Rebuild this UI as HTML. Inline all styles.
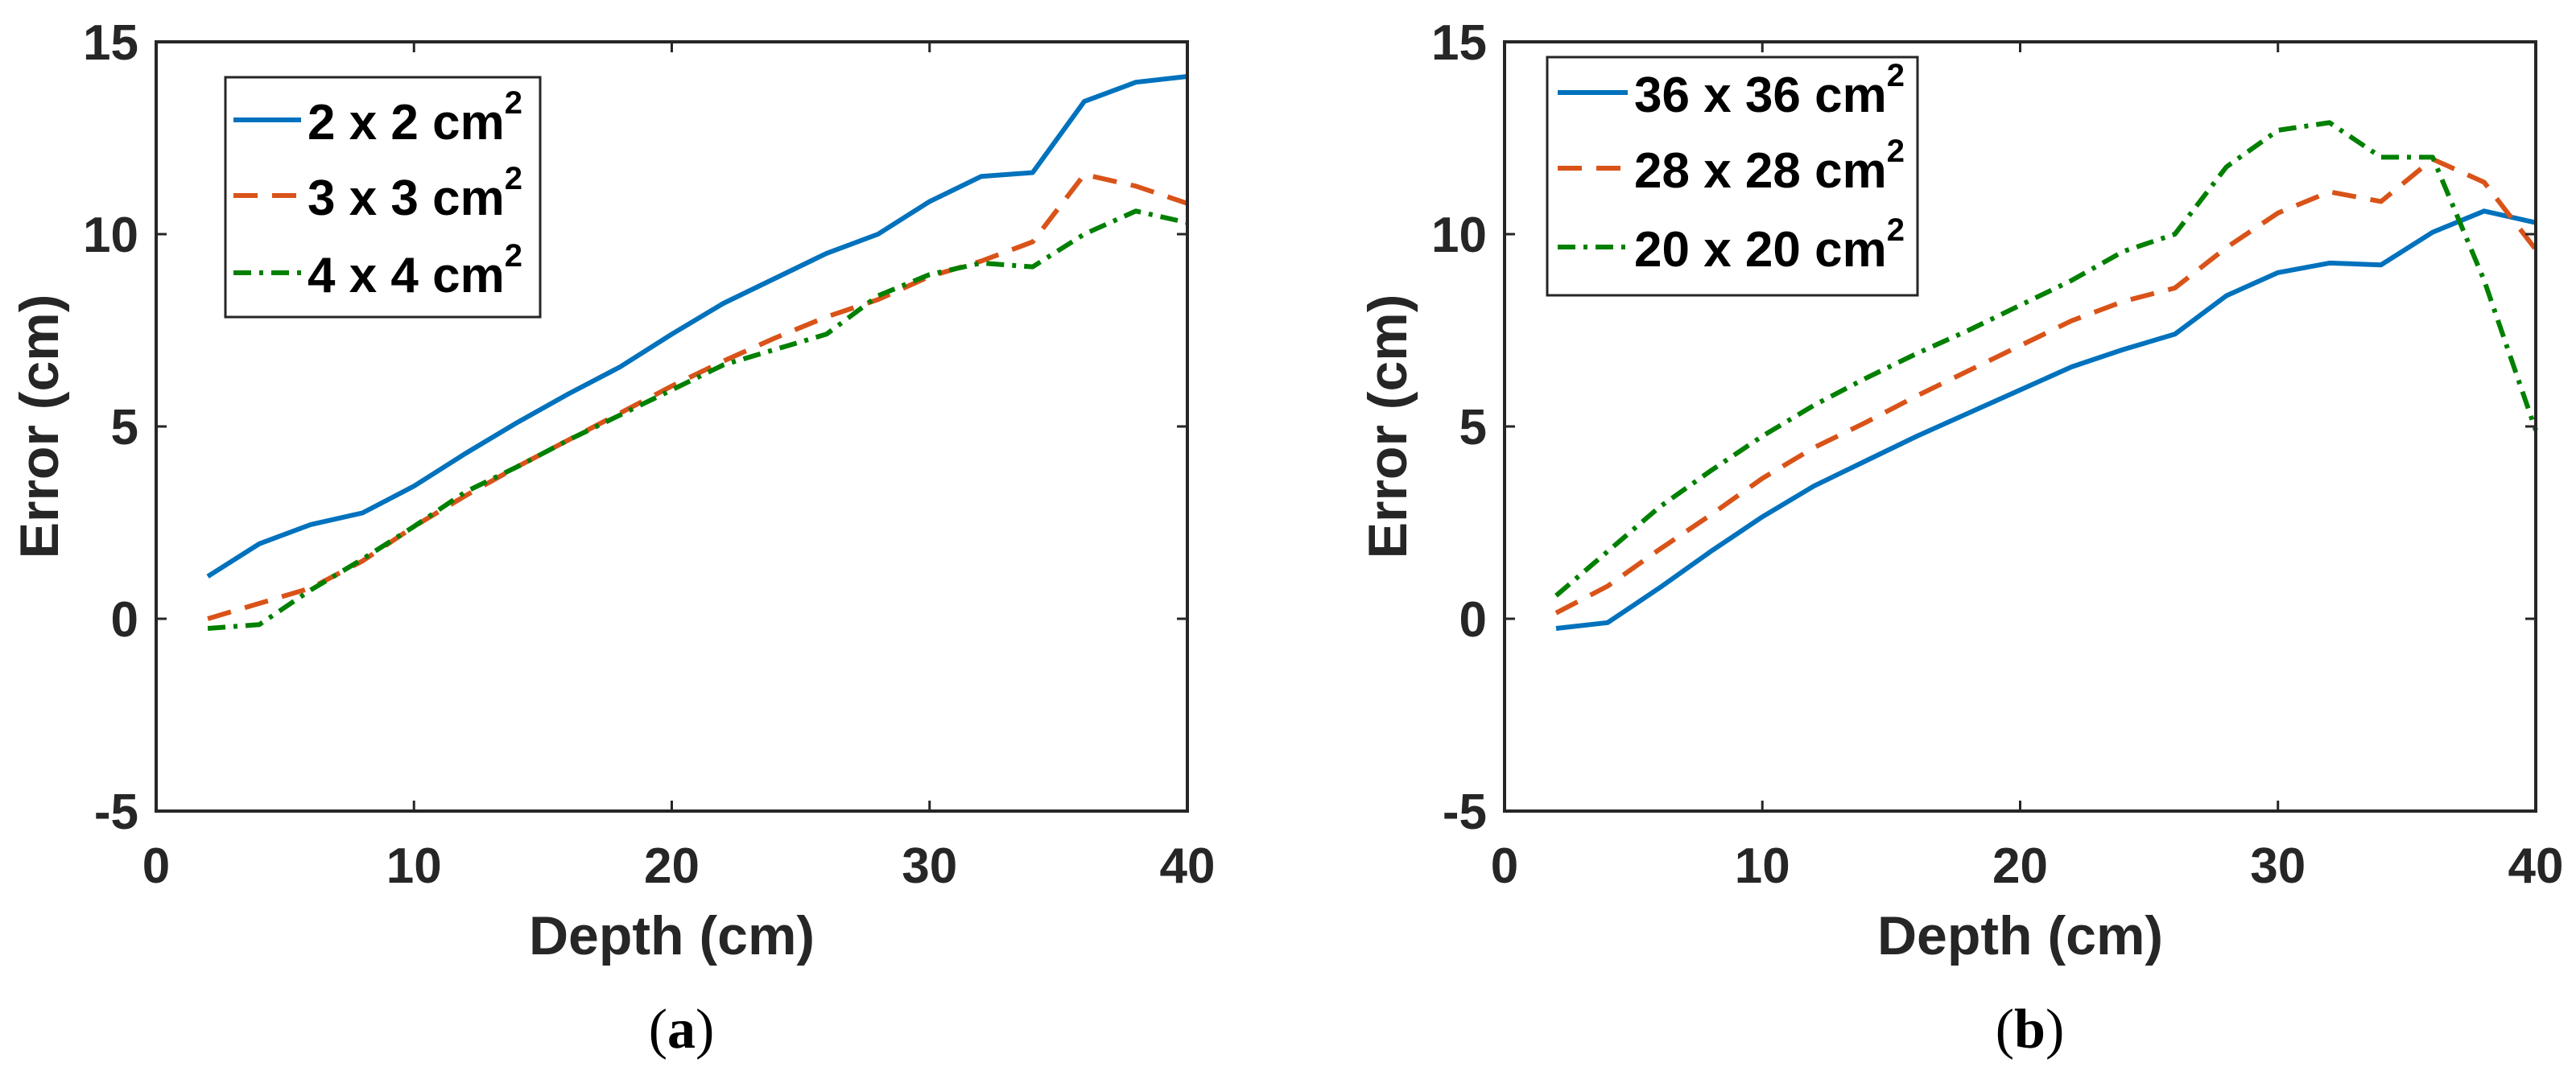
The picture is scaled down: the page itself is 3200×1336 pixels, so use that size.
<!DOCTYPE html>
<html><head><meta charset="utf-8"><style>
html,body{margin:0;padding:0;background:#fff;}
svg{display:block;}
text{font-family:"Liberation Sans",Arial,sans-serif;font-weight:bold;fill:#262626;}
</style></head><body>
<svg id="fig" width="3200" height="1336" viewBox="0 0 3200 1336" xmlns="http://www.w3.org/2000/svg"></svg>
<script>
const depths = [2,4,6,8,10,12,14,16,18,20,22,24,26,28,30,32,34,36,38,40];
const xTicks = [0,10,20,30,40];
const yTicks = [-5,0,5,10,15];
const aLabels = ["2 x 2 cm","3 x 3 cm","4 x 4 cm"];
const aBlue = [1.1,1.95,2.45,2.75,3.45,4.3,5.1,5.85,6.55,7.4,8.2,8.85,9.5,10.0,10.85,11.5,11.6,13.45,13.95,14.1];
const aOrange = [0.0,0.4,0.8,1.5,2.4,3.2,3.95,4.65,5.35,6.05,6.7,7.3,7.85,8.3,8.9,9.3,9.8,11.55,11.25,10.8];
const aGreen = [-0.25,-0.15,0.75,1.55,2.4,3.3,3.95,4.65,5.3,5.95,6.6,7.0,7.4,8.4,8.95,9.25,9.15,10.0,10.6,10.3];
const bLabels = ["36 x 36 cm","28 x 28 cm","20 x 20 cm"];
const bBlue = [-0.25,-0.1,0.8,1.75,2.65,3.45,4.1,4.75,5.35,5.95,6.55,7.0,7.4,8.4,9.0,9.25,9.2,10.05,10.6,10.3];
const bOrange = [0.15,0.85,1.8,2.7,3.65,4.45,5.1,5.8,6.45,7.1,7.75,8.25,8.6,9.65,10.55,11.1,10.85,11.95,11.35,9.6];
const bGreen = [0.6,1.75,2.9,3.85,4.75,5.55,6.25,6.9,7.5,8.15,8.8,9.55,10.0,11.75,12.7,12.9,12.0,12.0,8.8,4.9];

const NS = "http://www.w3.org/2000/svg";
const svg = document.getElementById('fig');
const styles = [
  {c:"#0072BD", d:""},
  {c:"#D95319", d:"30 18"},
  {c:"#008000", d:"22 10 5 10"}
];
function mk(tag, attrs, parent){
  const e = document.createElementNS(NS, tag);
  for (const k in attrs) e.setAttribute(k, attrs[k]);
  (parent||svg).appendChild(e);
  return e;
}
function panel(id, L, series, labels, leg, caption){
  const T=52, B=1008, R=L+1281;
  const xs = v => L + (v-0)/(40-0)*(R-L);
  const ys = v => B - (v+5)/(20)*(B-T);
  const g = mk('g', {});
  
  
  series.forEach((vals, i) => {
    const pts = vals.map((v, j) => xs(depths[j]).toFixed(1)+','+ys(v).toFixed(1)).join(' ');
    const p = mk('polyline', {points:pts, fill:'none', stroke:styles[i].c, 'stroke-width':6, 'stroke-dasharray':styles[i].d, 'stroke-linejoin':'round'}, g);
    
    
  });
  const box = mk('rect', {x:L, y:T, width:R-L, height:B-T, fill:'none', stroke:'#262626', 'stroke-width':4}, g);
  
  
  xTicks.forEach(t => {
    const x = xs(t);
    mk('line', {x1:x, y1:B, x2:x, y2:B-13, stroke:'#262626', 'stroke-width':3}, g);
    mk('line', {x1:x, y1:T, x2:x, y2:T+13, stroke:'#262626', 'stroke-width':3}, g);
    const tx = mk('text', {x:x, y:1097, 'font-size':62, 'text-anchor':'middle'}, g);
    tx.textContent = t;
    
    
  });
  yTicks.forEach(t => {
    const y = ys(t);
    mk('line', {x1:L, y1:y, x2:L+13, y2:y, stroke:'#262626', 'stroke-width':3}, g);
    mk('line', {x1:R, y1:y, x2:R-13, y2:y, stroke:'#262626', 'stroke-width':3}, g);
    const ty = mk('text', {x:L-22, y:y+22, 'font-size':62, 'text-anchor':'end'}, g);
    ty.textContent = t;
    
    
  });
  const xt = mk('text', {x:(L+R)/2, y:1186, 'font-size':68, 'text-anchor':'middle'}, g);
  xt.textContent = 'Depth (cm)';
  
  
  const yt = mk('text', {x:0, y:0, 'font-size':68, 'text-anchor':'middle', transform:'translate('+(L-122)+',530) rotate(-90)'}, g);
  yt.textContent = 'Error (cm)';
  
  
  const cap = mk('text', {x:(L+R)/2+12, y:1302, 'font-size':70, 'text-anchor':'middle', style:'font-family:"Liberation Serif",serif;font-weight:normal;fill:#000'}, g);
  cap.appendChild(document.createTextNode('('));
  const cb = mk('tspan', {style:'font-weight:bold'}, cap);
  cb.textContent = caption;
  cap.appendChild(document.createTextNode(')'));
  
  
  const lg = mk('g', {}, g);
  
  
  mk('rect', {x:leg.x, y:leg.y, width:leg.w, height:leg.h, fill:'#fff', stroke:'#262626', 'stroke-width':3}, lg);
  labels.forEach((lab, i) => {
    const ry = leg.rows[i];
    const e = mk('g', {}, lg);
    
    
    mk('line', {x1:leg.lx1, y1:ry, x2:leg.lx2, y2:ry, stroke:styles[i].c, 'stroke-width':6, 'stroke-dasharray':styles[i].d}, e);
    const t = mk('text', {x:leg.tx, y:ry+24, 'font-size':62, style:'fill:#000'}, e);
    t.textContent = lab;
    const s = mk('tspan', {'font-size':40, dy:-32}, t);
    s.textContent = '2';
  });
}
panel('a', 194, [aBlue, aOrange, aGreen], aLabels,
  {x:280, y:96, w:391, h:298, lx1:290, lx2:374, tx:382, rows:[149,243,339]}, 'a');
panel('b', 1869, [bBlue, bOrange, bGreen], bLabels,
  {x:1922, y:71, w:460, h:296, lx1:1935, lx2:2022, tx:2030, rows:[115,209,307]}, 'b');
</script>
</body></html>
